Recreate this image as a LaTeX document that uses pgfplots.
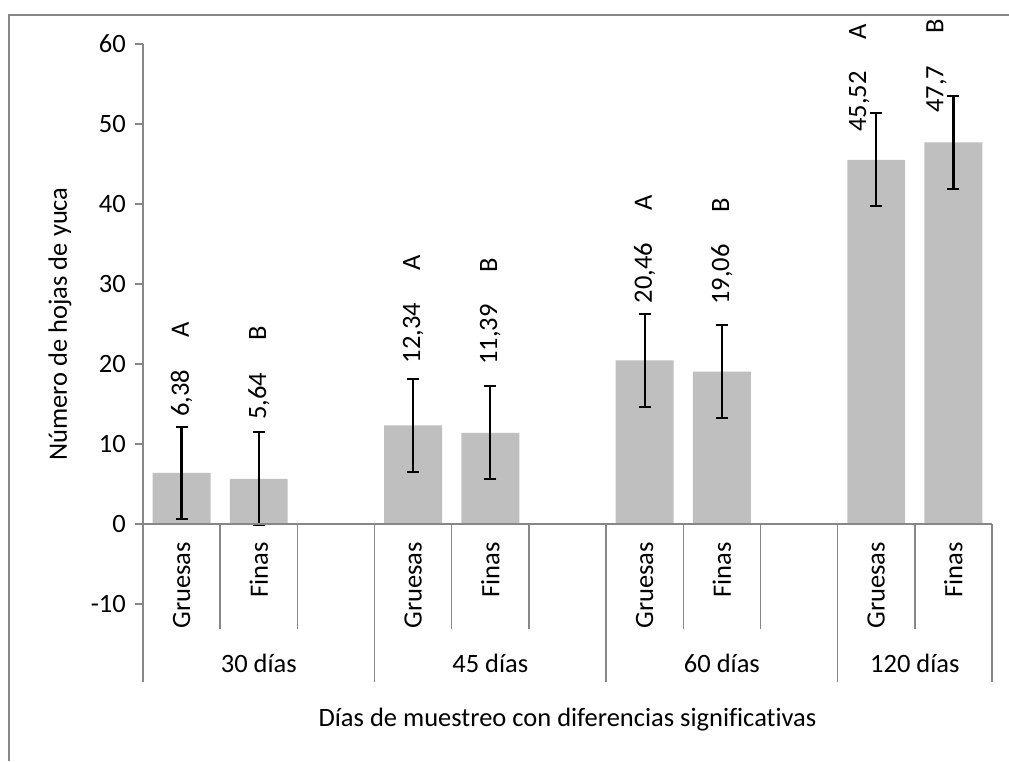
\documentclass[border=0pt]{standalone}
\usepackage{pgfplots}
\pgfplotsset{compat=1.18}
\usepackage{fontspec}
\setmainfont{Carlito}[Ligatures={NoCommon}]
\definecolor{axgray}{HTML}{878787}
\definecolor{bargray}{HTML}{BFBFBF}
\begin{document}
\fontsize{26.5}{31}\selectfont
\begin{tikzpicture}[x=1pt,y=1pt]
\useasboundingbox (0,0) rectangle (1009,761);
\draw[axgray, line width=1.5pt] (9,0) -- (9,746) -- (1009,746);
\begin{axis}[
  at={(143pt,157pt)}, anchor=south west,
  scale only axis, width=849pt, height=560pt,
  xmin=-0.5, xmax=10.5, ymin=-10, ymax=60,
  axis x line=none, axis y line*=left,
  y axis line style={axgray, line width=1.5pt},
  ytick={-10,0,10,20,30,40,50,60},
  ytick style={axgray, line width=1.5pt},
  tick align=outside, major tick length=8pt,
  /pgf/number format/assume math mode=true,
  yticklabel style={font=\fontsize{26.5}{31}\selectfont, inner sep=0pt, xshift=-9pt},
  ylabel={Número de hojas de yuca},
  ylabel style={font=\fontsize{26.5}{31}\selectfont, at={(axis description cs:-0.0978,0.5)}, anchor=center},
  ybar, bar width=0.75,
  clip=false,
]
\draw[axgray, line width=1.5pt] (axis cs:-0.5,-10) -- (axis cs:-0.5,-19.75);
\addplot[fill=bargray, draw=none,
  error bars/.cd, y dir=both, y explicit,
  error bar style={black, line width=2.2pt},
  error mark options={rotate=90, black, mark size=6pt, line width=2pt}]
  coordinates {
  (0,6.38) +- (0,5.8)
  (1,5.64) +- (0,5.8)
  (3,12.34) +- (0,5.8)
  (4,11.39) +- (0,5.8)
  (6,20.46) +- (0,5.8)
  (7,19.06) +- (0,5.8)
  (9,45.52) +- (0,5.8)
  (10,47.7) +- (0,5.8)
  };
\draw[axgray, line width=1.5pt] (axis cs:-0.5,0) -- (axis cs:10.5,0);
% short separators
\draw[axgray, line width=1.5pt] (axis cs:0.5,0) -- (axis cs:0.5,-13.125);
\draw[axgray, line width=1.5pt] (axis cs:1.5,0) -- (axis cs:1.5,-13.125);
\draw[axgray, line width=1.5pt] (axis cs:3.5,0) -- (axis cs:3.5,-13.125);
\draw[axgray, line width=1.5pt] (axis cs:4.5,0) -- (axis cs:4.5,-13.125);
\draw[axgray, line width=1.5pt] (axis cs:6.5,0) -- (axis cs:6.5,-13.125);
\draw[axgray, line width=1.5pt] (axis cs:7.5,0) -- (axis cs:7.5,-13.125);
\draw[axgray, line width=1.5pt] (axis cs:9.5,0) -- (axis cs:9.5,-13.125);
% long separators
\draw[axgray, line width=1.5pt] (axis cs:2.5,0) -- (axis cs:2.5,-19.75);
\draw[axgray, line width=1.5pt] (axis cs:5.5,0) -- (axis cs:5.5,-19.75);
\draw[axgray, line width=1.5pt] (axis cs:8.5,0) -- (axis cs:8.5,-19.75);
\draw[axgray, line width=1.5pt] (axis cs:10.5,0) -- (axis cs:10.5,-19.75);
% category labels
\node[rotate=90, anchor=east, inner sep=0pt] at (axis cs:0,-2.25) {Gruesas};
\node[rotate=90, anchor=east, inner sep=0pt] at (axis cs:1,-2.25) {Finas};
\node[rotate=90, anchor=east, inner sep=0pt] at (axis cs:3,-2.25) {Gruesas};
\node[rotate=90, anchor=east, inner sep=0pt] at (axis cs:4,-2.25) {Finas};
\node[rotate=90, anchor=east, inner sep=0pt] at (axis cs:6,-2.25) {Gruesas};
\node[rotate=90, anchor=east, inner sep=0pt] at (axis cs:7,-2.25) {Finas};
\node[rotate=90, anchor=east, inner sep=0pt] at (axis cs:9,-2.25) {Gruesas};
\node[rotate=90, anchor=east, inner sep=0pt] at (axis cs:10,-2.25) {Finas};
% group labels
\node[anchor=base, inner sep=0pt] at (axis cs:1,-18.6) {30 días};
\node[anchor=base, inner sep=0pt] at (axis cs:4,-18.6) {45 días};
\node[anchor=base, inner sep=0pt] at (axis cs:7,-18.6) {60 días};
\node[anchor=base, inner sep=0pt] at (axis cs:9.5,-18.6) {120 días};
% axis title
\node[anchor=base, inner sep=0pt] at (axis description cs:0.5,-0.2196) {Días de muestreo con diferencias significativas};
% data labels
\node[rotate=90, anchor=west, inner sep=0pt] at (axis cs:0,13.4) {6,38\hspace{32pt}A};
\node[rotate=90, anchor=west, inner sep=0pt] at (axis cs:1,13.0) {5,64\hspace{32pt}B};
\node[rotate=90, anchor=west, inner sep=0pt] at (axis cs:3,20.1) {12,34\hspace{32pt}A};
\node[rotate=90, anchor=west, inner sep=0pt] at (axis cs:4,19.9) {11,39\hspace{32pt}B};
\node[rotate=90, anchor=west, inner sep=0pt] at (axis cs:6,27.6) {20,46\hspace{32pt}A};
\node[rotate=90, anchor=west, inner sep=0pt] at (axis cs:7,27.4) {19,06\hspace{32pt}B};
\node[rotate=90, anchor=west, inner sep=0pt] at (axis cs:8.78,49.0) {45,52\hspace{32pt}A};
\node[rotate=90, anchor=west, inner sep=0pt] at (axis cs:9.78,51.4) {47,7\hspace{32pt}B};
\end{axis}
\end{tikzpicture}
\end{document}
